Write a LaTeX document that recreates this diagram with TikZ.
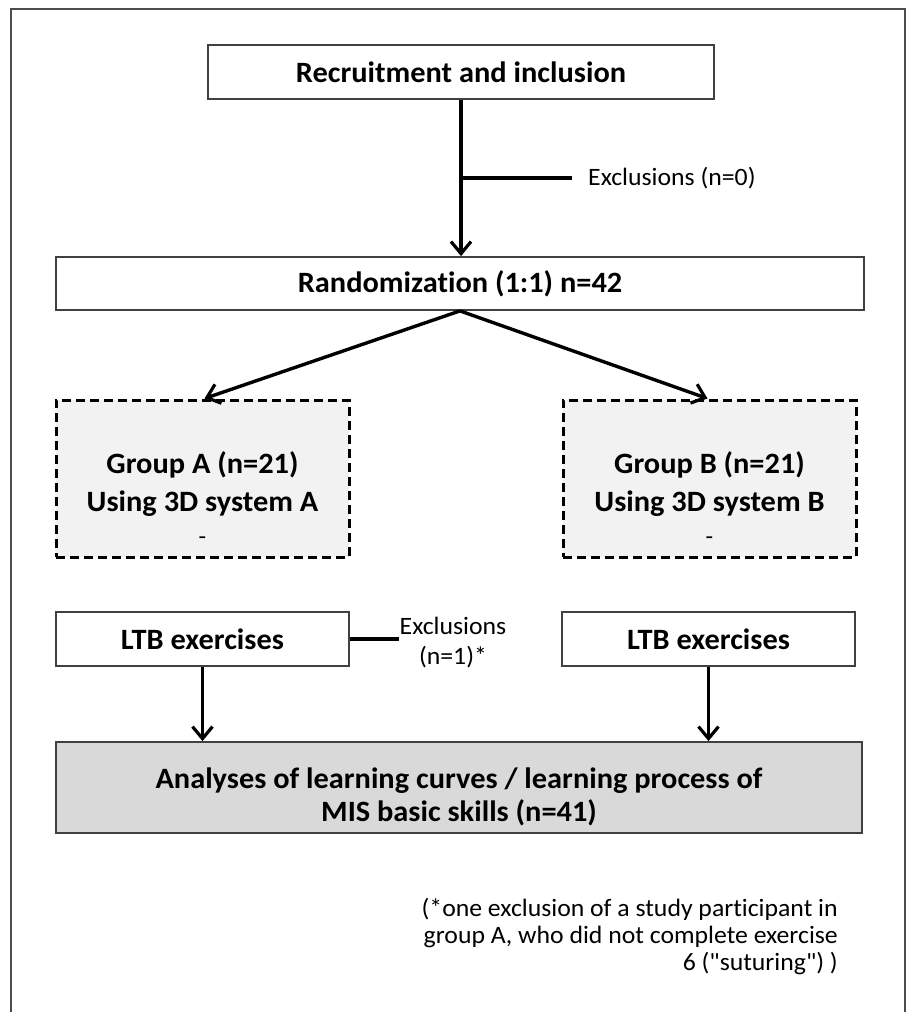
\documentclass[tikz,border=0pt]{standalone}
\usepackage{fontspec}
\setmainfont{Carlito}[Ligatures={TeXOff,NoCommon}]
\usetikzlibrary{arrows.meta}
\newcommand{\sx}[1]{\scalebox{1.03}[1]{#1}}
\newcommand{\rows}[3]{\raisebox{#1}[0pt][0pt]{\sx{\begin{tabular}[t]{@{}#2@{}}#3\end{tabular}}}}
\begin{document}
\begin{tikzpicture}[x=1pt,y=-1pt,
  box/.style={draw=black!75, line width=1.8pt, fill=white, inner sep=0pt,
    font=\bfseries\fontsize{29.5}{33}\selectfont},
  grp/.style={draw=black, line width=3pt, dash pattern=on 9pt off 5pt,
    fill=black!5, inner sep=0pt, font=\bfseries\fontsize{29.5}{38}\selectfont},
  conn/.style={line width=3.4pt, draw=black},
  arr/.style={conn, -{Straight Barb[length=12pt,width=20pt,line width=3.2pt]}},
  lbl/.style={inner sep=0pt, font=\fontsize{25}{30}\selectfont},
  foot/.style={inner sep=0pt, font=\fontsize{25}{27}\selectfont}
]
\useasboundingbox (0,0) rectangle (912,1012);
\draw[line width=1.8pt, black!70] (11,1012) -- (11,9) -- (905,9) -- (905,1012);

\node[box, minimum width=506pt, minimum height=54pt] (rec) at (461,72)
  {\sx{Recruitment and inclusion}};
\node[box, minimum width=808pt, minimum height=53pt] (rand) at (460,283.5)
  {\sx{Randomization (1:1) n=42}};
\node[lbl, anchor=west] (ex0) at (588,178) {\sx{Exclusions (n=0)}};

\node[grp, minimum width=293pt, minimum height=157pt] (ga) at (202.5,478.5)
  {\rows{5pt}{c}{Group A (n=21)\\ Using 3D system A\\[-5pt] {\mdseries\fontsize{24}{30}\selectfont -}}};
\node[grp, minimum width=293pt, minimum height=157pt] (gb) at (709.5,478.5)
  {\rows{5pt}{c}{Group B (n=21)\\ Using 3D system B\\[-5pt] {\mdseries\fontsize{24}{30}\selectfont -}}};

\node[box, minimum width=293pt, minimum height=54pt] (la) at (202.5,639)
  {\sx{LTB exercises}};
\node[box, minimum width=293pt, minimum height=54pt] (lb) at (708.5,639)
  {\sx{LTB exercises}};
\node[lbl] (ex1) at (453,638) {\rows{4pt}{c}{Exclusions\\ (n=1)*}};

\node[box, fill=black!15, minimum width=806pt, minimum height=91pt] (an) at (459,787.5)
  {\rows{-1pt}{c}{Analyses of learning curves / learning process of\\ MIS basic skills (n=41)}};

\node[foot, anchor=east] (fn) at (838,942)
  {\rows{26pt}{r}{(*one exclusion of a study participant in\\ group A, who did not complete exercise\\ 6 ("suturing") )}};

\draw[arr] (rec.south) -- (rec.south |- rand.north);
\draw[conn] (rec.south |- ex0.west) -- ([xshift=-16pt]ex0.west);
\draw[arr] (rand.south) -- ([xshift=2pt]ga.north);
\draw[arr] (rand.south) -- ([xshift=-2pt]gb.north);
\draw[conn] (la.east) -- (la.east -| ex1.west);
\draw[arr] (la.south) -- (la.south |- an.north);
\draw[arr] (lb.south) -- (lb.south |- an.north);
\end{tikzpicture}
\end{document}
